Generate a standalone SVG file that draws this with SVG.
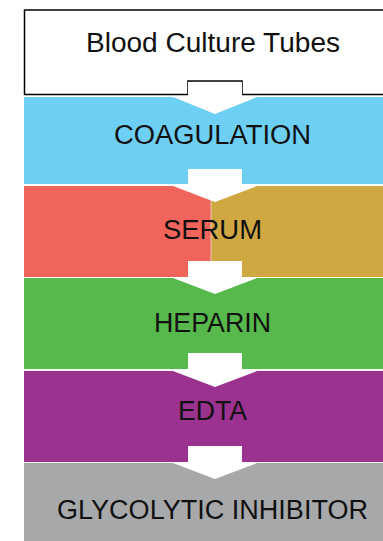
<svg xmlns="http://www.w3.org/2000/svg" width="383" height="541" viewBox="0 0 383 541">
<style>
.lbl{font-family:"Liberation Sans",Arial,sans-serif;font-size:27px;fill:#111;text-anchor:middle}
.arr{fill:#fff}
</style>
<rect width="383" height="541" fill="#fff"/>
<g id="node-blood">
<path d="M390,10 H24.5 V94.5 H188 V81 H242 V94.5 H390" fill="#fff" stroke="#000" stroke-width="1.5"/>
<text class="lbl" x="213" y="52" font-size="28" textLength="254" lengthAdjust="spacingAndGlyphs">Blood Culture Tubes</text>
</g>
<g id="node-coagulation">
<rect x="24" y="97" width="359" height="87" fill="#6ECFF4"/>
<text class="lbl" x="212.5" y="144" textLength="197" lengthAdjust="spacingAndGlyphs">COAGULATION</text>
</g>
<g id="node-serum">
<rect x="24" y="186" width="187" height="91" fill="#F0645C"/>
<rect x="211" y="186" width="172" height="91" fill="#CFA842"/>
<line x1="211" y1="200" x2="211" y2="262" stroke="#e6d8c8" stroke-width="0.8"/>
<text class="lbl" x="212.5" y="238.5" textLength="99" lengthAdjust="spacingAndGlyphs">SERUM</text>
</g>
<g id="node-heparin">
<rect x="24" y="278" width="359" height="91" fill="#57B94B"/>
<text class="lbl" x="212.5" y="331.7" textLength="117" lengthAdjust="spacingAndGlyphs">HEPARIN</text>
</g>
<g id="node-edta">
<rect x="24" y="371" width="359" height="91" fill="#9B3290"/>
<text class="lbl" x="212.5" y="420" textLength="69" lengthAdjust="spacingAndGlyphs">EDTA</text>
</g>
<g id="node-glycolytic">
<rect x="24" y="463" width="359" height="78" fill="#A7A8AA"/>
<text class="lbl" x="212.5" y="519.3" textLength="311" lengthAdjust="spacingAndGlyphs">GLYCOLYTIC INHIBITOR</text>
</g>
<g id="connectors">
<polygon class="arr" points="188,82 242,82 242,97 257,97 215,114 173,97 188,97"/>
<polygon class="arr" points="188,169 242,169 242,186 257,186 215,202 173,186 188,186"/>
<polygon class="arr" points="188,261 242,261 242,278 257,278 215,294 173,278 188,278"/>
<polygon class="arr" points="188,353 242,353 242,371 257,371 215,387 173,371 188,371"/>
<polygon class="arr" points="188,446 242,446 242,463 257,463 215,479 173,463 188,463"/>
</g>
</svg>
